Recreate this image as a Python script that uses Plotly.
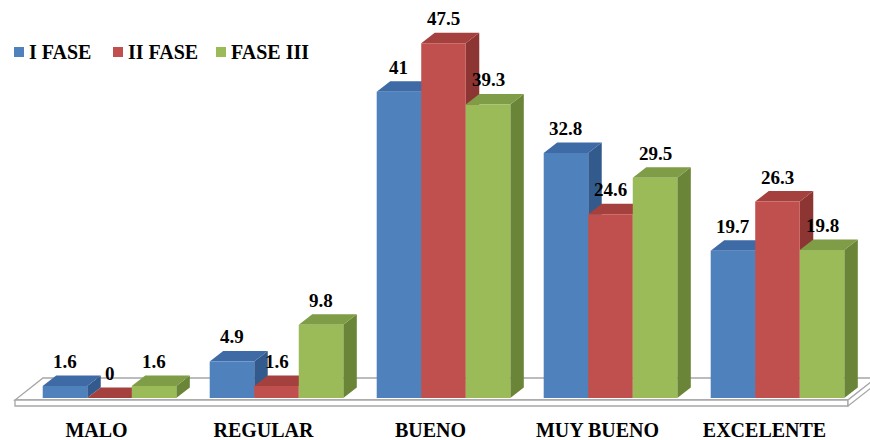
import plotly.graph_objects as go

# ---- data -------------------------------------------------------------
categories = ["MALO", "REGULAR", "BUENO", "MUY BUENO", "EXCELENTE"]
series_names = ["I FASE", "II FASE", "FASE III"]
fase_1 = [1.6, 4.9, 41, 32.8, 19.7]
fase_2 = [0, 1.6, 47.5, 24.6, 26.3]
fase_3 = [1.6, 9.8, 39.3, 29.5, 19.8]
series_values = [fase_1, fase_2, fase_3]

# ---- style ------------------------------------------------------------
front_colors = ["#4f81bd", "#c0504d", "#9bbb59"]
top_colors = ["#3e6aa5", "#a4413e", "#7f9c46"]
side_colors = ["#335a8c", "#8c3533", "#6a8538"]
FONT = "Liberation Serif, Times New Roman, serif"

WIDTH, HEIGHT = 870, 440
MARGIN_B = 30
PLOT_H = HEIGHT - MARGIN_B
PX_PER_X = 167.0          # pixels per category step
PX_PER_Y = 7.47           # pixels per value unit
X0 = -109.5 / PX_PER_X    # left end of the x range
Y0 = -12.0 / PX_PER_Y     # bottom end of the y range
X1 = X0 + WIDTH / PX_PER_X
Y1 = Y0 + PLOT_H / PX_PER_Y

GROUP = 0.8               # share of a category taken by its bars
BW = GROUP / len(series_names)
DEPTH_X = 13.5 / PX_PER_X
DEPTH_Y = 10.5 / PX_PER_Y

# legend entries: left edge of each swatch in pixels, swatch size, row centre
LEGEND_X = [14, 113, 216]
SWATCH = 10
LEGEND_Y = 52


def px_to_data(px, py):
    """Convert a position in plot pixels to data coordinates."""
    return X0 + px / PX_PER_X, Y0 + (PLOT_H - py) / PX_PER_Y


def poly(points):
    return "M " + " L ".join(f"{x:.5f},{y:.5f}" for x, y in points) + " Z"


shapes = []
annotations = []

# floor slab under the columns
floor_top = [px_to_data(*p) for p in [(15, 400), (848, 400), (876, 378), (43, 378)]]
floor_front = [px_to_data(*p) for p in [(15, 400), (848, 400), (848, 406), (15, 406)]]
floor_side = [px_to_data(*p) for p in [(848, 400), (876, 378), (876, 384), (848, 406)]]
for pts in (floor_top, floor_front, floor_side):
    shapes.append(dict(type="path", path=poly(pts), xref="x", yref="y",
                       fillcolor="white", line=dict(color="#a6a6a6", width=1.3),
                       layer="below"))

# side and top faces of every column, drawn left to right
for i in range(len(categories)):
    for j, values in enumerate(series_values):
        v = values[i]
        x0 = i - GROUP / 2 + j * BW
        x1 = x0 + BW
        side = [(x1, 0), (x1, v), (x1 + DEPTH_X, v + DEPTH_Y), (x1 + DEPTH_X, DEPTH_Y)]
        top = [(x0, v), (x1, v), (x1 + DEPTH_X, v + DEPTH_Y), (x0 + DEPTH_X, v + DEPTH_Y)]
        shapes.append(dict(type="path", path=poly(side), xref="x", yref="y",
                           fillcolor=side_colors[j], line=dict(width=0), layer="below"))
        shapes.append(dict(type="path", path=poly(top), xref="x", yref="y",
                           fillcolor=top_colors[j], line=dict(width=0), layer="below"))
        annotations.append(dict(x=(x0 + x1) / 2, y=v, xref="x", yref="y",
                                text=f"{v:g}", showarrow=False, yanchor="bottom",
                                yshift=12,
                                font=dict(family=FONT, size=19, color="black",
                                          weight="bold")))

# legend row: coloured swatch followed by the series name
for j, name in enumerate(series_names):
    sx0, sy0 = px_to_data(LEGEND_X[j], LEGEND_Y + SWATCH / 2)
    sx1, sy1 = px_to_data(LEGEND_X[j] + SWATCH, LEGEND_Y - SWATCH / 2)
    shapes.append(dict(type="rect", xref="x", yref="y", x0=sx0, y0=sy0, x1=sx1, y1=sy1,
                       fillcolor=front_colors[j], line=dict(width=0)))
    tx, ty = px_to_data(LEGEND_X[j] + SWATCH + 3, LEGEND_Y)
    annotations.append(dict(x=tx, y=ty, xref="x", yref="y", text=name,
                            showarrow=False, xanchor="left", yanchor="middle",
                            font=dict(family=FONT, size=20, color="black",
                                      weight="bold")))

fig = go.Figure()
for j, name in enumerate(series_names):
    fig.add_trace(go.Bar(
        x=list(range(len(categories))), y=series_values[j], name=name,
        marker=dict(color=front_colors[j], line=dict(width=0)),
        hoverinfo="skip",
    ))

fig.update_layout(
    width=WIDTH, height=HEIGHT,
    margin=dict(l=0, r=0, t=0, b=MARGIN_B),
    paper_bgcolor="white", plot_bgcolor="white",
    barmode="group", bargap=1 - GROUP, bargroupgap=0,
    shapes=shapes, annotations=annotations,
    showlegend=False,
    xaxis=dict(range=[X0, X1], tickvals=list(range(len(categories))),
               ticktext=categories, showgrid=False, zeroline=False, showline=False,
               ticks="", ticklabelshift=-13, ticklabelstandoff=6,
               tickfont=dict(family=FONT, size=20, color="black", weight="bold")),
    yaxis=dict(range=[Y0, Y1], visible=False),
)

fig.write_html("out.html")
